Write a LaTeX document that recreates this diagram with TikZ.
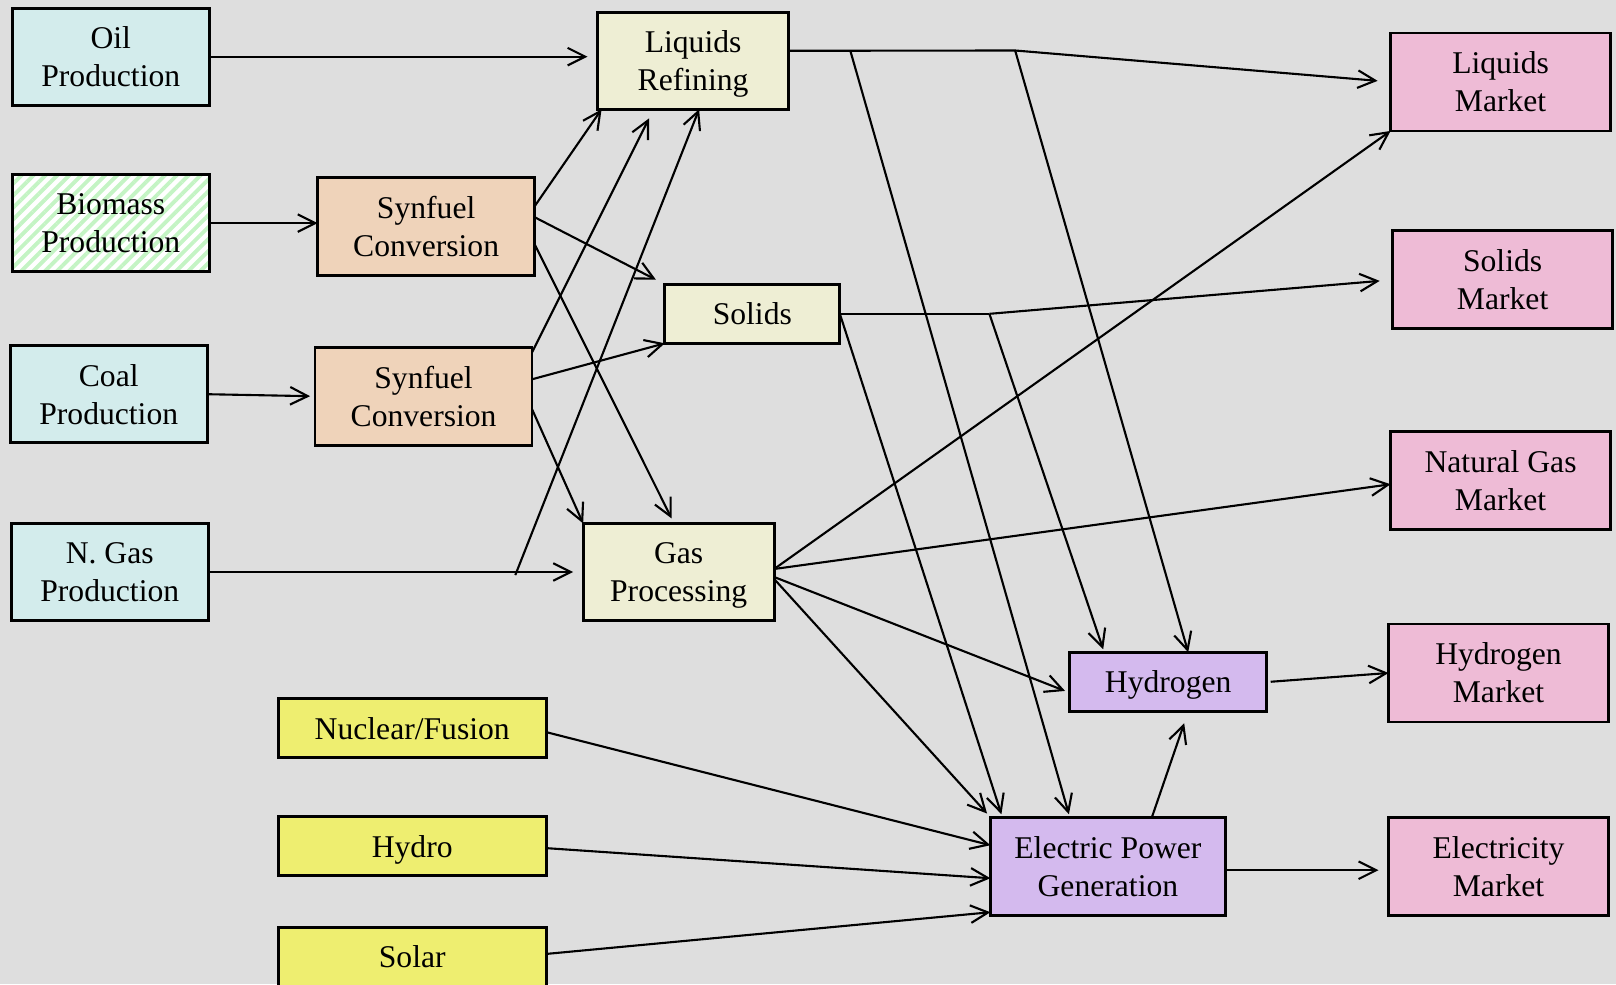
\documentclass[tikz,border=0pt]{standalone}
\usepackage{fontspec}
\setmainfont{Liberation Serif}
\usetikzlibrary{arrows.meta,patterns.meta}
\definecolor{bgcol}{HTML}{DEDEDE}
\definecolor{prodcol}{HTML}{D3ECEC}
\definecolor{syncol}{HTML}{EFD3BA}
\definecolor{proccol}{HTML}{EEEED4}
\definecolor{elcol}{HTML}{D4BAEE}
\definecolor{mktcol}{HTML}{EEBBD6}
\definecolor{rencol}{HTML}{EEEE70}
\definecolor{hatchcol}{HTML}{C4F4C4}
\tikzset{
  box/.style={draw, line width=0.8pt, align=center, inner sep=0pt, outer sep=0pt,
    minimum height=9.7mm, text depth=0pt, font=\fontsize{9}{10.8}\selectfont},
  prod/.style={box, fill=prodcol, minimum width=19.7mm},
  syn/.style={box, fill=syncol, minimum width=21.7mm, minimum height=9.8mm},
  proc/.style={box, fill=proccol, minimum width=19.1mm},
  mkt/.style={box, fill=mktcol, minimum width=22mm, minimum height=9.8mm},
  ren/.style={box, fill=rencol, minimum width=26.8mm, minimum height=5.9mm},
  arr/.style={line width=0.6pt, -{Straight Barb[length=5pt,width=5pt]}},
  link/.style={line width=0.6pt}
}
\begin{document}
\begin{tikzpicture}[x=1.0306mm, y=-1.0306mm]
    \useasboundingbox (0,0) rectangle (156.8,95.5);
    \fill[bgcol] (0,0) rectangle (156.8,95.5);
    \clip (0,0) rectangle (156.8,95.5);
    \node[prod] (oil) at (10.75,5.5) {Oil\\Production};
    \node[prod, preaction={fill=white}, pattern={Lines[angle=45,distance=2.4pt,line width=1.1pt]},
      pattern color=hatchcol] (bio) at (10.75,21.65) {Biomass\\Production};
    \node[prod] (coal) at (10.55,38.25) {Coal\\Production};
    \node[prod] (ngas) at (10.65,55.5) {N. Gas\\Production};
    \node[syn] (synA) at (41.35,21.95) {Synfuel\\Conversion};
    \node[syn] (synB) at (41.1,38.45) {Synfuel\\Conversion};
    \node[proc] (liq) at (67.25,5.9) {Liquids\\Refining};
    \node[proc, minimum width=17.5mm, minimum height=5.9mm] (sol) at (73.0,30.45) {Solids};
    \node[proc] (gas) at (65.85,55.5) {Gas\\Processing};
    \node[box, fill=elcol, minimum width=19.7mm, minimum height=5.9mm] (hyd) at (113.35,66.15) {Hydrogen};
    \node[box, fill=elcol, minimum width=23.5mm, minimum height=9.8mm] (elec) at (107.5,84.05) {Electric Power\\Generation};
    \node[ren] (nuc) at (40.0,70.65) {Nuclear/Fusion};
    \node[ren] (hydro) at (40.0,82.1) {Hydro};
    \node[ren] (solar) at (40.0,92.85) {Solar};
    \node[mkt] (mliq) at (145.6,7.95) {Liquids\\Market};
    \node[mkt] (msol) at (145.8,27.15) {Solids\\Market};
    \node[mkt] (mgas) at (145.6,46.6) {Natural Gas\\Market};
    \node[mkt] (mhyd) at (145.4,65.3) {Hydrogen\\Market};
    \node[mkt] (mel) at (145.4,84.05) {Electricity\\Market};
    \coordinate (ngf) at (50,55.8);
    \coordinate (lq1) at (82.5,4.9);
    \coordinate (lq2) at (98.5,4.9);
    \coordinate (sl1) at (96,30.45);
    \draw[arr, shorten >=1mm] (oil.east) -- (oil.east -| liq.west);
    \draw[arr] (bio.east) -- (bio.east -| synA.west);
    \draw[arr, shorten >=.5mm] (coal.east) -- (synB.west);
    \draw[arr, shorten >=1mm] (ngas.east) -- (ngas.east -| gas.west);
    \draw[arr] (ngf) -- ([xshift=.6mm]liq.south);
    \draw[arr] ([yshift=2mm]synA.east) -- ([xshift=.4mm]liq.south west);
    \draw[arr, shorten >=1mm] ([yshift=.9mm]synA.east) -- (sol.north west);
    \draw[arr] ([yshift=-1.8mm]synA.east) -- ([xshift=-.7mm,yshift=.5mm]gas.north);
    \draw[arr] ([yshift=-.5mm]synB.north east) -- ([xshift=-4.4mm,yshift=-.9mm]liq.south);
    \draw[arr] ([yshift=1.7mm]synB.east) -- (sol.south west);
    \draw[arr] ([yshift=-1.3mm]synB.east) -- (gas.north west);
    \draw[link] ([yshift=1mm]liq.east) -- (lq2);
    \draw[arr, shorten >=1.3mm] (lq2) -- (mliq.west);
    \draw[arr] (lq1) -- ([xshift=-3.9mm,yshift=.3mm]elec.north);
    \draw[arr] (lq2) -- ([xshift=2mm]hyd.north);
    \draw[link] (sol.east) -- (sl1);
    \draw[arr] (sl1) -- ([xshift=-6.5mm,yshift=.3mm]hyd.north);
    \draw[arr, shorten >=1.3mm] (sl1) -- (msol.west);
    \draw[arr] (sol.east) -- ([xshift=1.1mm,yshift=.3mm]elec.north west);
    \draw[arr] ([yshift=.3mm]gas.east) -- (mliq.south west);
    \draw[arr] ([yshift=.3mm]gas.east) -- ([yshift=-.4mm]mgas.west);
    \draw[arr, shorten >=.5mm] ([yshift=-.5mm]gas.east) -- ([yshift=-1.1mm]hyd.west);
    \draw[arr, shorten >=.5mm] ([yshift=-.7mm]gas.east) -- (elec.north west);
    \draw[arr] ([yshift=-.4mm]nuc.east) -- ([yshift=2.1mm]elec.west);
    \draw[arr] ([yshift=-.2mm]hydro.east) -- ([yshift=-1.2mm]elec.west);
    \draw[arr] ([yshift=.3mm]solar.east) -- ([yshift=.3mm]elec.south west);
    \draw[arr] ([xshift=4.4mm]elec.north) -- ([xshift=1.6mm,yshift=-1.2mm]hyd.south);
    \draw[arr] ([xshift=.4mm]hyd.east) -- (mhyd.west);
    \draw[arr, shorten >=1mm] ([yshift=-.4mm]elec.east) -- ([yshift=-.4mm]mel.west);
\end{tikzpicture}
\end{document}
